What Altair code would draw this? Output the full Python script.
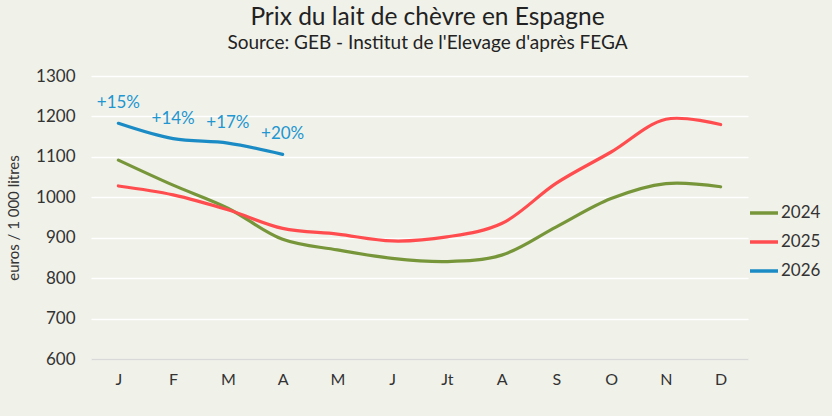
import altair as alt
import pandas as pd

# Monthly goat milk price in Spain (euros / 1 000 litres)
months = ["J", "F", "M", "A", "M", "J", "Jt", "A", "S", "O", "N", "D"]
prix_2024 = [1092, 1030, 973, 896, 870, 849, 841, 857, 927, 997, 1034, 1026]
prix_2025 = [1028, 1006, 969, 923, 909, 892, 902, 935, 1035, 1112, 1193, 1180]
prix_2026 = [1183, 1145, 1134, 1106]
years = ["2024", "2025", "2026"]
colors = ["#77963A", "#FF4D4F", "#1B8BC6"]

rows = []
for year, serie in zip(years, [prix_2024, prix_2025, prix_2026]):
    for i, v in enumerate(serie):
        rows.append({"mois": i, "annee": year, "prix": v})
df = pd.DataFrame(rows)

# Year-on-year change of 2026 against 2025
evol = pd.DataFrame({
    "mois": list(range(len(prix_2026))),
    "prix": prix_2026,
    "label": [f"+{round((a / b - 1) * 100)}%" for a, b in zip(prix_2026, prix_2025)],
})

label_expr = "[" + ",".join(f"'{m}'" for m in months) + "][datum.value]"

x = alt.X(
    "mois:Q",
    scale=alt.Scale(domain=[-0.5, 11.5], nice=False, zero=False),
    axis=alt.Axis(
        values=list(range(12)), labelExpr=label_expr, title=None, grid=False,
        ticks=False, domain=True, domainColor="#D9D9D9", domainWidth=1.5,
        labelFontSize=16, labelPadding=12, labelColor="#333333", labelFont="Lato",
    ),
)
y = alt.Y(
    "prix:Q",
    scale=alt.Scale(domain=[600, 1300], nice=False, zero=False),
    axis=alt.Axis(
        values=list(range(600, 1301, 100)), format="d", title="euros / 1 000 litres",
        titleFontSize=15, titleFontWeight="normal", titleColor="#333333",
        titleFont="Lato", titlePadding=14,
        labelFontSize=17, labelPadding=16, labelColor="#333333", labelFont="Lato",
        ticks=False, domain=False, grid=True, gridColor="#FFFFFF", gridWidth=1.5,
    ),
)

lines = alt.Chart(df).mark_line(
    interpolate="catmull-rom", strokeWidth=3.2, strokeCap="round"
).encode(
    x=x,
    y=y,
    color=alt.Color(
        "annee:N",
        scale=alt.Scale(domain=years, range=colors),
        legend=alt.Legend(
            title=None, orient="none", legendX=657, legendY=121,
            symbolType="stroke", symbolSize=784, symbolStrokeWidth=3.5,
            labelFontSize=17, labelFont="Lato", labelColor="#333333",
            labelOffset=1, rowPadding=5,
        ),
    ),
)

labels = alt.Chart(evol).mark_text(
    dy=-20, fontSize=17, font="Lato", color="#2196D0"
).encode(x="mois:Q", y="prix:Q", text="label:N")

chart = alt.layer(lines, labels).properties(
    width=657,
    height=283,
    autosize=alt.AutoSizeParams(type="none"),
    padding={"left": 91, "top": 76, "right": 84, "bottom": 57},
    background="#F0F1E9",
    title=alt.Title(
        "Prix du lait de chèvre en Espagne",
        subtitle="Source: GEB - Institut de l'Elevage d'après FEGA",
        anchor="middle", dx=8, offset=13,
        fontSize=24.5, font="Lato", fontWeight="normal", color="#222222",
        subtitleFontSize=19, subtitleFont="Lato", subtitleColor="#222222",
        subtitlePadding=4,
    ),
).configure_view(stroke=None)

chart.save("out.html", embed_options={"renderer": "svg", "actions": False})
